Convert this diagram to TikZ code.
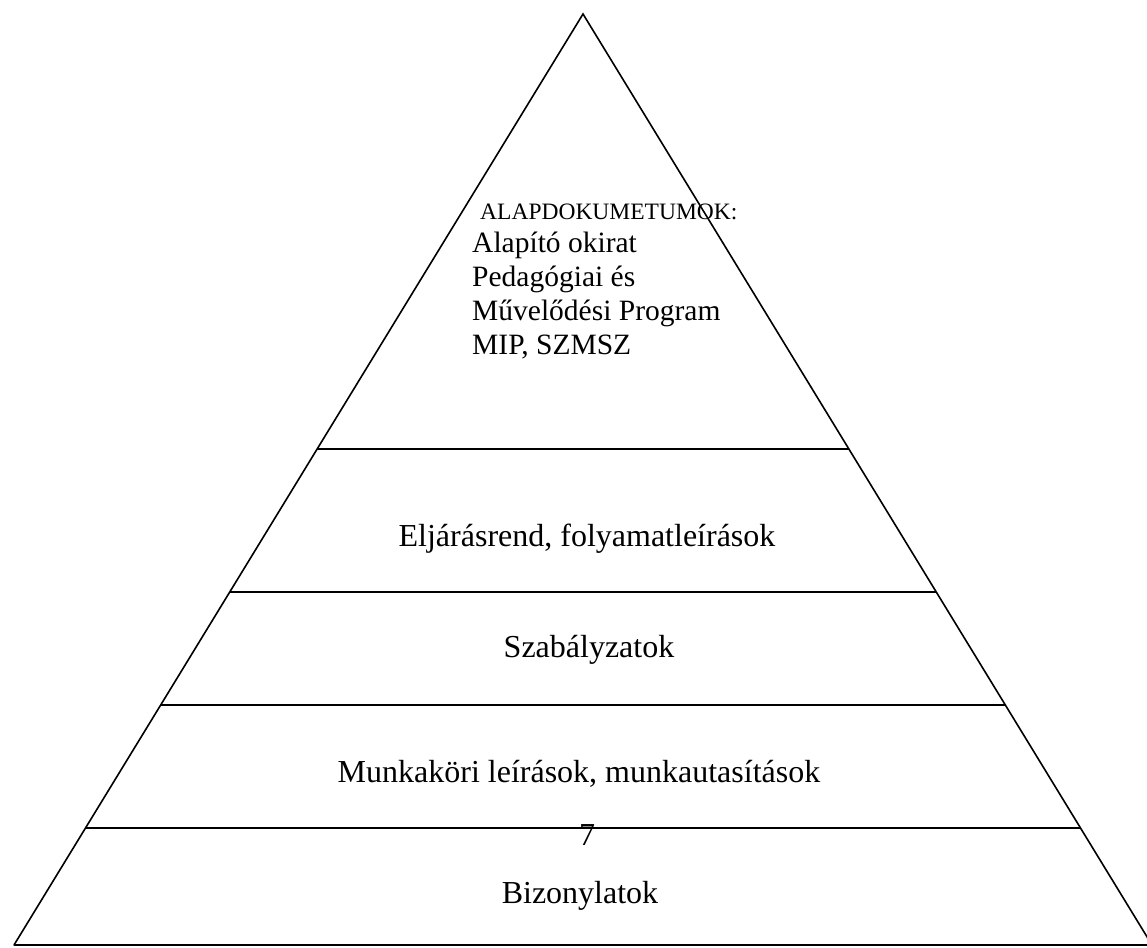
\documentclass[tikz,border=0pt]{standalone}
\usepackage{fontspec}
\setmainfont{Liberation Serif}
\usetikzlibrary{calc}
\begin{document}
\begin{tikzpicture}[x=1pt,y=-1pt,
  edge/.style={line width=1.6pt,line cap=round,line join=miter},
  sep/.style={line width=1.6pt},
  big/.style={font=\fontsize{32}{34}\selectfont,inner sep=0pt},
  mid/.style={font=\fontsize{29.5}{34}\selectfont,inner sep=0pt},
  small/.style={font=\fontsize{23.5}{25}\selectfont,inner sep=0pt}]
\useasboundingbox (0,0) rectangle (1147,947);
\coordinate (A) at (583,14);
\coordinate (L) at (14,945);
\coordinate (R) at (1152,945);
\draw[edge] (L) -- (A) -- (R);
\draw[line width=2pt] (L) -- (1147,945);
\foreach \y/\n in {449/a,592/b,705/c,828/d}{
  \coordinate (l\n) at ($(A)!{(\y-14)/931}!(L)$);
  \coordinate (r\n) at ($(A)!{(\y-14)/931}!(R)$);
  \draw[sep] (l\n) -- (r\n);
}
\node[small,anchor=base west] (t0) at (480,219) {ALAPDOKUMETUMOK:};
\node[mid,anchor=base west] (t1) at (472,252) {Alapító okirat};
\node[mid,anchor=base west] (t2) at (472,286) {Pedagógiai és};
\node[mid,anchor=base west] (t3) at (472,320) {Művelődési Program};
\node[mid,anchor=base west] (t4) at (472,354) {MIP, SZMSZ};
\node[big,anchor=base] (e) at (587,546) {Eljárásrend, folyamatleírások};
\node[big,anchor=base] (s) at (589,657) {Szabályzatok};
\node[big,anchor=base] (m) at (579,782) {Munkaköri leírások, munkautasítások};
\node[big,anchor=base] (n7) at (587,845) {7};
\node[big,anchor=base] (b) at (580,903) {Bizonylatok};
\end{tikzpicture}
\end{document}
